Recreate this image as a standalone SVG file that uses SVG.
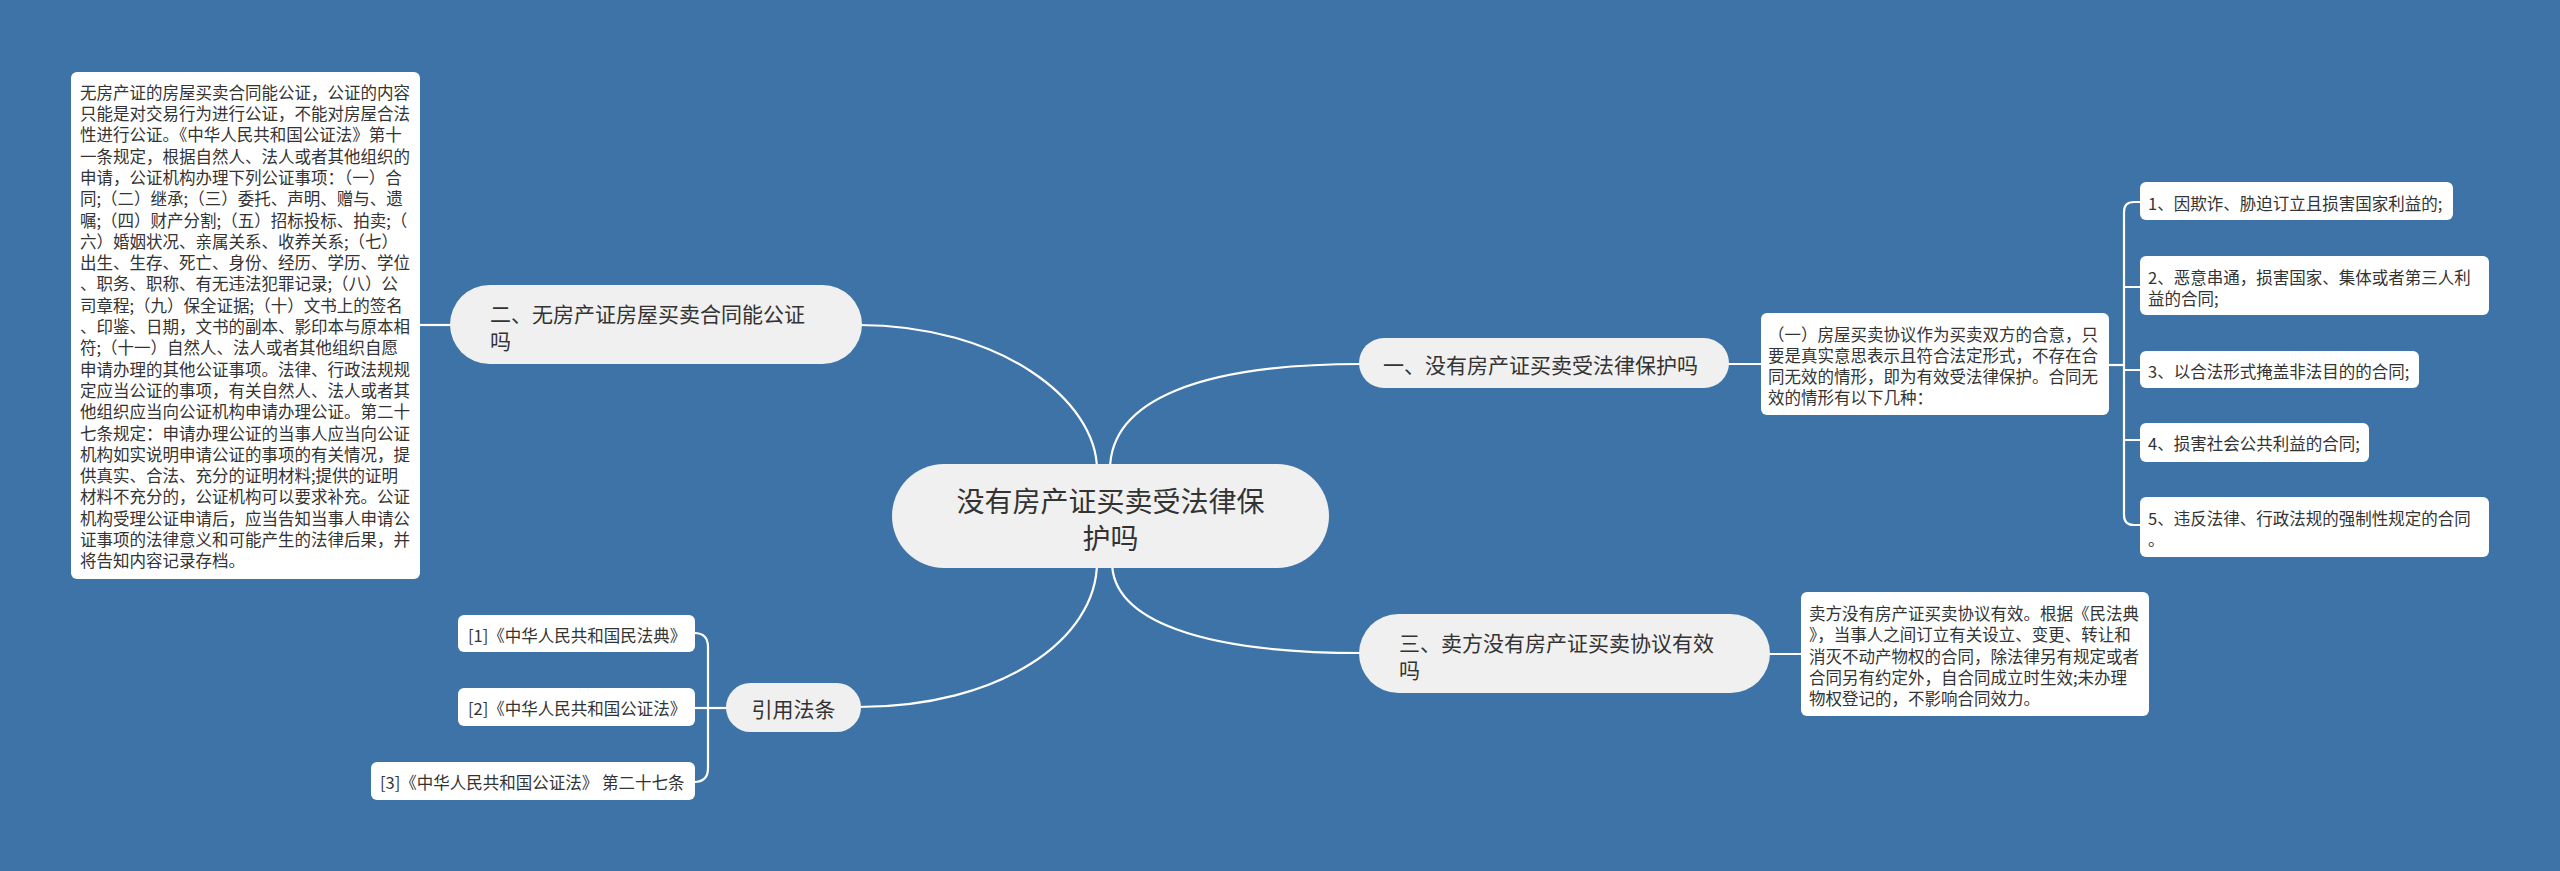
<svg xmlns="http://www.w3.org/2000/svg" width="2560" height="871" viewBox="0 0 2560 871">
<style>
text{font-family:"Noto Sans CJK SC","Noto Sans",sans-serif;fill:#333;dominant-baseline:central}
.pill{fill:#F0F0F0}
.box{fill:#FFFFFF}
.s{font-size:16.5px}
.m{font-size:21px}
.l{font-size:28px}
.c{fill:none;stroke:#FFFFFF;stroke-width:2.2}
</style>
<rect width="2560" height="871" fill="#3D73A6"/>
<g id="connectors">
<path class="c" d="M420,325 H452"/>
<path class="c" d="M858,325 C1000,325 1097,400 1097,470"/>
<path class="c" d="M1110,470 C1110,400 1200,364 1362,364"/>
<path class="c" d="M1726,364 H1762"/>
<path class="c" d="M2108,365 H2124"/>
<path class="c" d="M2141,202 H2134 Q2124,202 2124,212 V515 Q2124,525 2134,525 H2141"/>
<path class="c" d="M2124,287 H2141 M2124,370 H2141 M2124,440 H2141"/>
<path class="c" d="M1097,562 C1097,640 1000,707 858,707"/>
<path class="c" d="M1112,562 C1112,620 1200,653 1362,653"/>
<path class="c" d="M1767,654 H1802"/>
<path class="c" d="M729,708 H708"/>
<path class="c" d="M694,633 Q708,633 708,647 V768 Q708,782 694,782"/>
<path class="c" d="M694,708 H708"/>
</g>
<g id="center">
<rect class="pill" x="892" y="464" width="437" height="104" rx="52"/>
<text class="l" x="1110.5" y="500" text-anchor="middle">没有房产证买卖受法律保</text>
<text class="l" x="1110.5" y="537" text-anchor="middle">护吗</text>
</g>
<g id="n2">
<rect class="pill" x="450" y="285" width="412" height="79" rx="39.5"/>
<text class="m" x="490" y="313">二、无房产证房屋买卖合同能公证</text>
<text class="m" x="490" y="340">吗</text>
</g>
<g id="n2-detail">
<rect class="box" x="71" y="72" width="349" height="507" rx="6"/>
<text class="s" x="80">
<tspan x="80" y="91.7">无房产证的房屋买卖合同能公证，公证的内容</tspan>
<tspan x="80" y="113">只能是对交易行为进行公证，不能对房屋合法</tspan>
<tspan x="80" y="134.3">性进行公证。《中华人民共和国公证法》第十</tspan>
<tspan x="80" y="155.6">一条规定，根据自然人、法人或者其他组织的</tspan>
<tspan x="80" y="176.9">申请，公证机构办理下列公证事项：（一）合</tspan>
<tspan x="80" y="198.2">同;（二）继承;（三）委托、声明、赠与、遗</tspan>
<tspan x="80" y="219.5">嘱;（四）财产分割;（五）招标投标、拍卖;（</tspan>
<tspan x="80" y="240.8">六）婚姻状况、亲属关系、收养关系;（七）</tspan>
<tspan x="80" y="262.1">出生、生存、死亡、身份、经历、学历、学位</tspan>
<tspan x="80" y="283.4">、职务、职称、有无违法犯罪记录;（八）公</tspan>
<tspan x="80" y="304.7">司章程;（九）保全证据;（十）文书上的签名</tspan>
<tspan x="80" y="326">、印鉴、日期，文书的副本、影印本与原本相</tspan>
<tspan x="80" y="347.3">符;（十一）自然人、法人或者其他组织自愿</tspan>
<tspan x="80" y="368.6">申请办理的其他公证事项。法律、行政法规规</tspan>
<tspan x="80" y="389.9">定应当公证的事项，有关自然人、法人或者其</tspan>
<tspan x="80" y="411.2">他组织应当向公证机构申请办理公证。第二十</tspan>
<tspan x="80" y="432.5">七条规定：申请办理公证的当事人应当向公证</tspan>
<tspan x="80" y="453.8">机构如实说明申请公证的事项的有关情况，提</tspan>
<tspan x="80" y="475.1">供真实、合法、充分的证明材料;提供的证明</tspan>
<tspan x="80" y="496.4">材料不充分的，公证机构可以要求补充。公证</tspan>
<tspan x="80" y="517.7">机构受理公证申请后，应当告知当事人申请公</tspan>
<tspan x="80" y="539">证事项的法律意义和可能产生的法律后果，并</tspan>
<tspan x="80" y="560.3">将告知内容记录存档。</tspan>
</text>
</g>
<g id="n1">
<rect class="pill" x="1359" y="338" width="370" height="50" rx="25"/>
<text class="m" x="1383" y="364">一、没有房产证买卖受法律保护吗</text>
</g>
<g id="n1-detail">
<rect class="box" x="1761" y="313" width="348" height="102" rx="6"/>
<text class="s">
<tspan x="1768" y="333.5">（一）房屋买卖协议作为买卖双方的合意，只</tspan>
<tspan x="1768" y="354.8">要是真实意思表示且符合法定形式，不存在合</tspan>
<tspan x="1768" y="376.1">同无效的情形，即为有效受法律保护。合同无</tspan>
<tspan x="1768" y="397.4">效的情形有以下几种：</tspan>
</text>
</g>
<g id="item1">
<rect class="box" x="2140" y="182" width="313" height="38" rx="6"/>
<text class="s" x="2148" y="202.5">1、因欺诈、胁迫订立且损害国家利益的;</text>
</g>
<g id="item2">
<rect class="box" x="2140" y="256" width="349" height="59" rx="6"/>
<text class="s"><tspan x="2148" y="276.5">2、恶意串通，损害国家、集体或者第三人利</tspan><tspan x="2148" y="297.8">益的合同;</tspan></text>
</g>
<g id="item3">
<rect class="box" x="2140" y="351" width="279" height="37" rx="6"/>
<text class="s" x="2148" y="370.5">3、以合法形式掩盖非法目的的合同;</text>
</g>
<g id="item4">
<rect class="box" x="2140" y="423" width="229" height="39" rx="6"/>
<text class="s" x="2148" y="442.5">4、损害社会公共利益的合同;</text>
</g>
<g id="item5">
<rect class="box" x="2140" y="497" width="349" height="60" rx="6"/>
<text class="s"><tspan x="2148" y="517.5">5、违反法律、行政法规的强制性规定的合同</tspan><tspan x="2148" y="538.8">。</tspan></text>
</g>
<g id="n3">
<rect class="pill" x="1359" y="614" width="411" height="79" rx="39.5"/>
<text class="m" x="1399" y="642">三、卖方没有房产证买卖协议有效</text>
<text class="m" x="1399" y="669">吗</text>
</g>
<g id="n3-detail">
<rect class="box" x="1801" y="592" width="348" height="124" rx="6"/>
<text class="s">
<tspan x="1809" y="613">卖方没有房产证买卖协议有效。根据《民法典</tspan>
<tspan x="1809" y="634.3">》，当事人之间订立有关设立、变更、转让和</tspan>
<tspan x="1809" y="655.6">消灭不动产物权的合同，除法律另有规定或者</tspan>
<tspan x="1809" y="676.9">合同另有约定外，自合同成立时生效;未办理</tspan>
<tspan x="1809" y="698.2">物权登记的，不影响合同效力。</tspan>
</text>
</g>
<g id="n4">
<rect class="pill" x="726" y="683" width="135" height="49" rx="24.5"/>
<text class="m" x="793.5" y="708" text-anchor="middle">引用法条</text>
</g>
<g id="ref1">
<rect class="box" x="458" y="615" width="237" height="37" rx="6"/>
<text class="s" x="468" y="634.5">[1]《中华人民共和国民法典》</text>
</g>
<g id="ref2">
<rect class="box" x="458" y="688" width="237" height="38" rx="6"/>
<text class="s" x="468" y="707.5">[2]《中华人民共和国公证法》</text>
</g>
<g id="ref3">
<rect class="box" x="371" y="762" width="324" height="38" rx="6"/>
<text class="s" x="380" y="781.5">[3]《中华人民共和国公证法》 第二十七条</text>
</g>
</svg>
